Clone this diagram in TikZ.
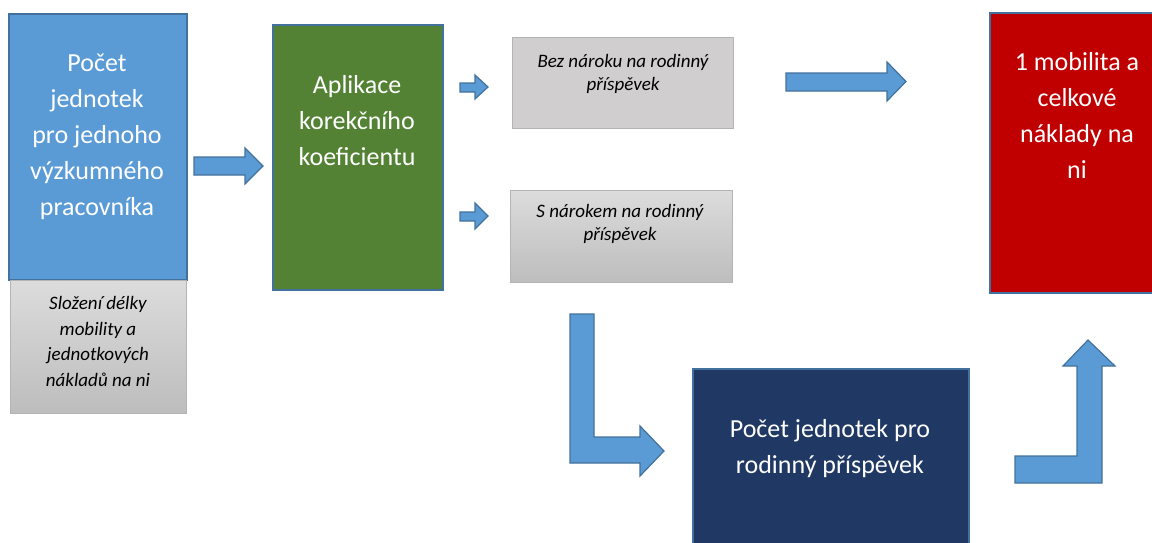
\documentclass[tikz,border=0pt]{standalone}
\usepackage{fontspec}
\setmainfont{Carlito}
\definecolor{boxline}{HTML}{41719C}
\definecolor{arrfill}{HTML}{5B9BD5}
\definecolor{arrline}{HTML}{41719C}
\definecolor{blueA}{HTML}{5B9BD5}
\definecolor{greenA}{HTML}{548235}
\definecolor{redA}{HTML}{C00000}
\definecolor{navyA}{HTML}{203864}
\definecolor{grayline}{HTML}{B4B4B4}
\definecolor{grayTop}{HTML}{DCDCDC}
\definecolor{grayBot}{HTML}{BDBDBD}
\definecolor{grayFlat}{HTML}{D0CECE}
\begin{document}
\begin{tikzpicture}[x=1pt,y=-1pt,
  colbox/.style={draw=boxline, line width=1.5pt, rectangle, anchor=north west, inner sep=0pt},
  graybox/.style={draw=grayline, line width=1pt, rectangle, anchor=north west, inner sep=0pt},
  blockarrow/.style={draw=arrline, fill=arrfill, line width=1.2pt, line join=miter},
  whitetxt/.style={text=white, align=center, font=\fontsize{26}{36}\selectfont, inner sep=0pt},
  graytxt/.style={text=black, align=center, font=\fontsize{19}{23}\selectfont\itshape, inner sep=0pt}]
\useasboundingbox (0,0) rectangle (1152,542);
\clip (0,0) rectangle (1152,542);
% boxes
\node (blue) [colbox, fill=blueA, minimum width=178pt, minimum height=266pt] at (8,13) {};
\node (left) [graybox, top color=grayTop, bottom color=grayBot, minimum width=176pt, minimum height=133pt] at (10,280) {};
\node (green) [colbox, fill=greenA, minimum width=170pt, minimum height=265pt] at (272,24) {};
\node (bez) [graybox, fill=grayFlat, minimum width=221pt, minimum height=91pt] at (512,37) {};
\node (snar) [graybox, top color=grayTop, bottom color=grayBot, minimum width=222pt, minimum height=92pt] at (510,190) {};
\node (red) [colbox, fill=redA, minimum width=176pt, minimum height=280pt] at (989,12) {};
\node (navy) [colbox, fill=navyA, minimum width=276pt, minimum height=200pt] at (692,368) {};
% texts
\node (blueT) [whitetxt] at (97,136.5) {Počet\\jednotek\\pro jednoho\\výzkumného\\pracovníka};
\node (leftT) [graytxt, font=\fontsize{19}{25.5}\selectfont\itshape] at (98,341.5) {Složení délky\\mobility a\\jednotkových\\nákladů na ni};
\node (greenT) [whitetxt] at (357,121) {Aplikace\\korekčního\\koeficientu};
\node (bezT) [graytxt] at (623,73.5) {Bez nároku na rodinný\\příspěvek};
\node (snarT) [graytxt] at (620,224) {S nárokem na rodinný\\příspěvek};
\node (redT) [whitetxt] at (1077,115.5) {1 mobilita a\\celkové\\náklady na\\ni};
\node (navyT) [whitetxt] at (830,448.5) {Počet jednotek pro\\rodinný příspěvek};
% block arrows
\draw[blockarrow] (194,157) -- (245,157) -- (245,148) -- (263,166) -- (245,184) -- (245,175) -- (194,175) -- cycle;
\draw[blockarrow] (460,83) -- (475,83) -- (475,75) -- (488,87) -- (475,99) -- (475,92) -- (460,92) -- cycle;
\draw[blockarrow] (460,212) -- (475,212) -- (475,203) -- (488,216) -- (475,229) -- (475,221) -- (460,221) -- cycle;
\draw[blockarrow] (786,73) -- (887,73) -- (887,62) -- (906,81.5) -- (887,101) -- (887,91) -- (786,91) -- cycle;
\draw[blockarrow] (570,314) -- (594,314) -- (594,437) -- (640,437) -- (640,426) -- (664,451) -- (640,476) -- (640,463) -- (570,463) -- cycle;
\draw[blockarrow] (1015,456) -- (1077,456) -- (1077,366) -- (1063,366) -- (1088,340) -- (1115,366) -- (1102,366) -- (1102,483) -- (1015,483) -- cycle;
\end{tikzpicture}
\end{document}
